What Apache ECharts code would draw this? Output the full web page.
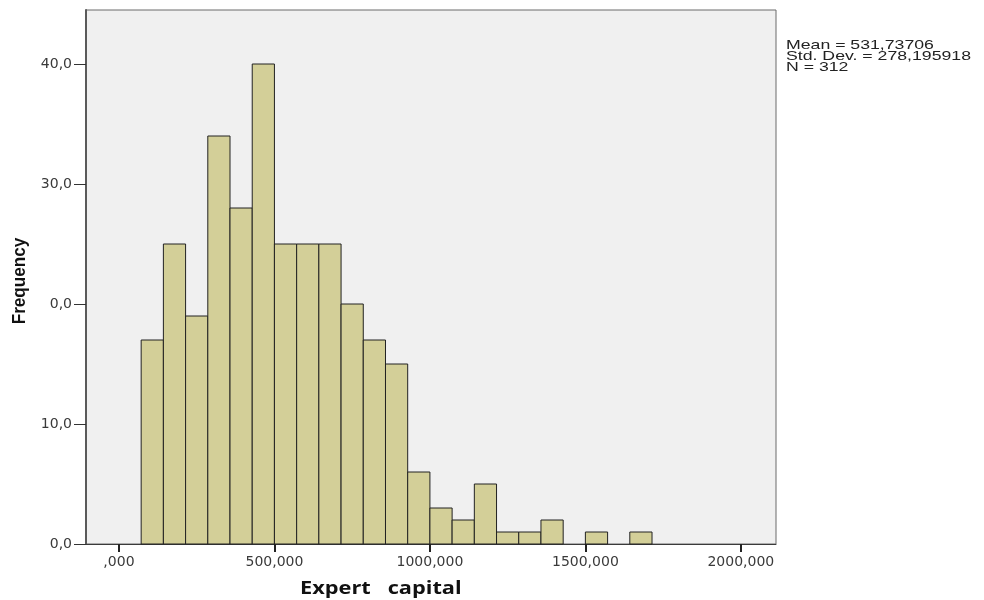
<!DOCTYPE html>
<html><head><meta charset="utf-8">
<script src="https://cdn.jsdelivr.net/npm/echarts@6/dist/echarts.min.js"></script>
<style>html,body{margin:0;padding:0;background:#fff}#c{width:984px;height:600px}</style>
</head><body><div id="c"></div>
<script>
// Histogram data (bins of equal width, first bin starts at binStart)
const binStart = 1000 / 14;
const binWidth = 1000 / 14;
const counts = [17, 25, 19, 34, 28, 40, 25, 25, 25, 20, 17, 15, 6, 3, 2, 5, 1, 1, 2, 0, 1, 0, 1];
// Axis ticks and labels
const xTickValues = [0, 500, 1000, 1500, 2000];
const xTickLabels = [',000', '500,000', '1000,000', '1500,000', '2000,000'];
const yTickValues = [0, 10, 20, 30, 40];
const yTickLabels = ['0,0', '10,0', '0,0', '30,0', '40,0'];
const statsLines = ['Mean = 531,73706', 'Std. Dev. = 278,195918', 'N = 312'];
const xTitle = 'Expert   capital';
const yTitle = 'Frequency';

const barData = [];
counts.forEach((c, i) => {
  if (c > 0) {
    const s = binStart + i * binWidth;
    barData.push([s, s + binWidth, c]);
  }
});

const chart = echarts.init(document.getElementById('c'), null, {renderer: 'canvas'});
const labelFont = {fontFamily: '"DejaVu Sans", sans-serif', fontSize: 14, color: '#3a3a3a'};
chart.setOption({
  animation: false,
  backgroundColor: '#fff',
  grid: {left: 86, right: 208, top: 10, bottom: 56, show: true, backgroundColor: '#f0f0f0', borderColor: '#6b6b6b', borderWidth: 1},
  xAxis: {
    type: 'value', min: -106, max: 2113,
    splitLine: {show: false},
    axisLine: {show: true, onZero: false, lineStyle: {color: '#3a3a3a', width: 1}},
    axisTick: {show: true, length: 8, customValues: xTickValues, lineStyle: {color: '#222', width: 2}},
    axisLabel: Object.assign({customValues: xTickValues, margin: 11,
      formatter: v => xTickLabels[xTickValues.indexOf(v)]}, labelFont)
  },
  yAxis: {
    type: 'value', min: 0, max: 44.5,
    splitLine: {show: false},
    axisLine: {show: true, onZero: false, lineStyle: {color: '#5a5a5a', width: 2}},
    axisTick: {show: true, length: 12, customValues: yTickValues, lineStyle: {color: '#333', width: 1}},
    axisLabel: Object.assign({customValues: yTickValues, margin: 14,
      formatter: v => yTickLabels[yTickValues.indexOf(v)]}, labelFont)
  },
  graphic: [
    {type: 'text', x: 786, y: 40, scaleX: 1.36, style: {text: statsLines.join('\n'), font: '13px "Liberation Sans", Arial, sans-serif', lineHeight: 11, fill: '#222'}},
    {type: 'text', x: 300, y: 581, scaleX: 1.28, style: {text: xTitle, font: 'bold 17px "Open Sans", "Liberation Sans", sans-serif', fill: '#111'}},
    {type: 'text', x: 20, y: 281, rotation: Math.PI / 2, scaleX: 0.95, style: {text: yTitle, font: 'bold 18px "Liberation Sans", Arial, sans-serif', fill: '#111', align: 'center', verticalAlign: 'middle'}}
  ],
  series: [{
    type: 'custom',
    data: barData,
    encode: {x: [0, 1], y: 2},
    renderItem: (params, api) => {
      const p0 = api.coord([api.value(0), api.value(2)]);
      const p1 = api.coord([api.value(1), 0]);
      return {type: 'rect', shape: {x: p0[0], y: p0[1], width: p1[0] - p0[0], height: p1[1] - p0[1]},
        style: {fill: '#d3cf98', stroke: '#222', lineWidth: 1}};
    }
  }]
});
</script></body></html>
